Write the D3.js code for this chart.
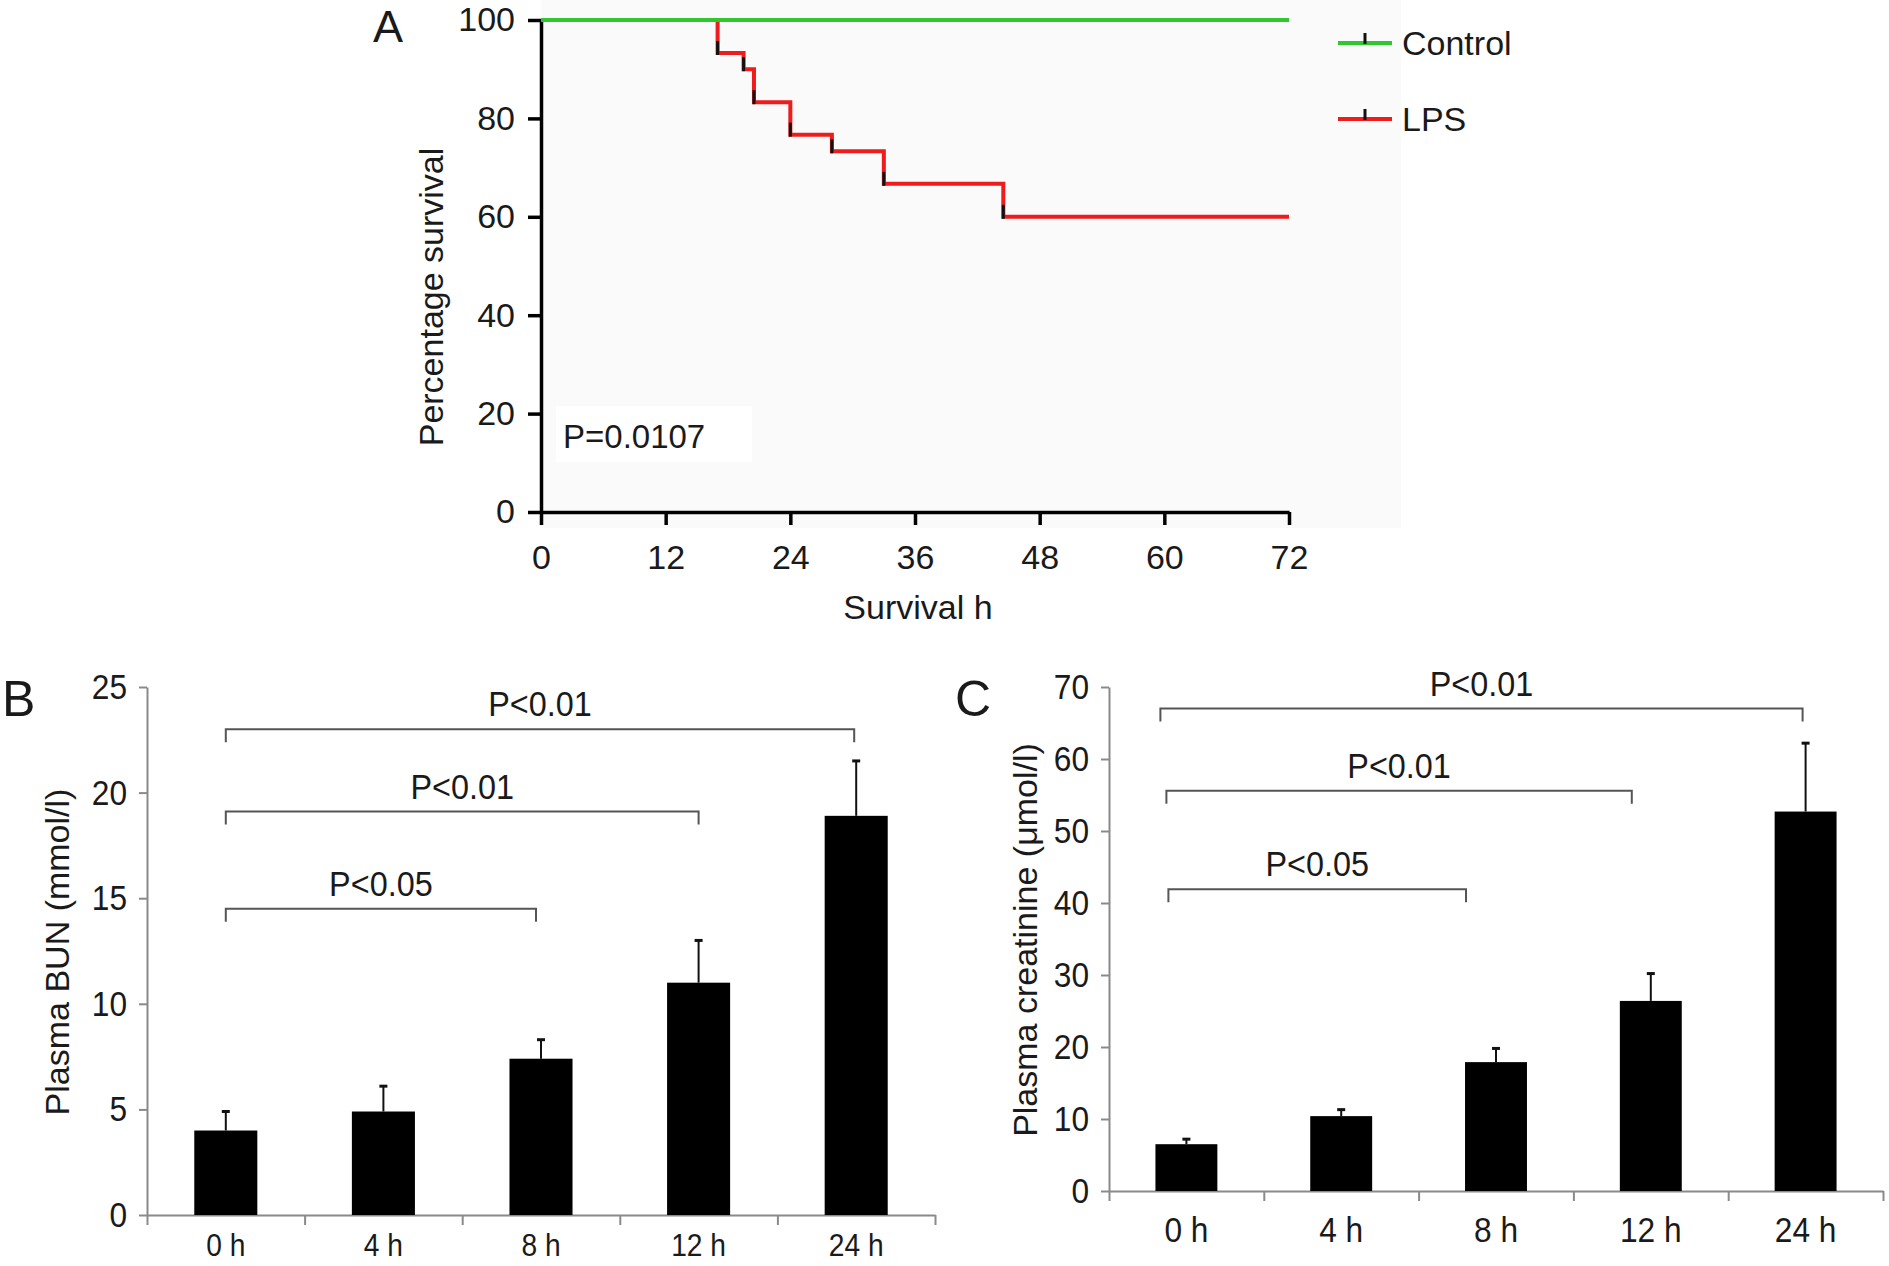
<!DOCTYPE html>
<html>
  <head>
    <meta http-equiv="Content-Type" content="text/html;charset=utf-8"/>
    <title>Survival and renal markers</title>
    <script src="https://d3js.org/d3.v7.min.js"></script>
    <style>
      body { margin: 0; background: #fff; }
      svg text { font-family: "Liberation Sans", Arial, sans-serif; fill: #1a1a1a; }
    </style>
  </head>
  <body>
    <div id="content"></div>
    <script type="text/javascript">

        // panel A - Kaplan-Meier
        const timeTicks = [0, 12, 24, 36, 48, 60, 72]
        const survivalTicks = [0, 20, 40, 60, 80, 100]
        const lpsTimes = [0, 17, 19.5, 20.5, 24, 28, 33, 44.5, 72]
        const lpsSurvival = [100, 93.3, 90, 83.3, 76.7, 73.3, 66.7, 60, 60]
        const controlTimes = [0, 72]
        const controlSurvival = [100, 100]
        const legendNames = ['Control', 'LPS']
        const legendColors = ['#2ec82e', '#ee1c1c']

        // panels B and C
        const groups = ['0 h', '4 h', '8 h', '12 h', '24 h']
        const bunMean = [4.0, 4.9, 7.4, 11.0, 18.9]
        const bunErr = [0.9, 1.2, 0.9, 2.0, 2.6]
        const bunTicks = [0, 5, 10, 15, 20, 25]
        const creMean = [6.5, 10.4, 17.9, 26.4, 52.7]
        const creErr = [0.7, 0.9, 1.9, 3.8, 9.5]
        const creTicks = [0, 10, 20, 30, 40, 50, 60, 70]
        const bunBrackets = [
            { from: '0 h', to: '8 h', level: 14.5, label: 'P<0.05' },
            { from: '0 h', to: '12 h', level: 19.1, label: 'P<0.01' },
            { from: '0 h', to: '24 h', level: 23.0, label: 'P<0.01' }
        ]
        const creBrackets = [
            { from: '0 h', to: '8 h', level: 41.9, label: 'P<0.05' },
            { from: '0 h', to: '12 h', level: 55.6, label: 'P<0.01' },
            { from: '0 h', to: '24 h', level: 67.0, label: 'P<0.01' }
        ]

        const width = 1889, height = 1266
        const svg = d3.select('#content').append('svg')
            .attr('width', width).attr('height', height)

        // squeeze text horizontally (the original uses a condensed face)
        function condense(sel, k) {
            sel.each(function() {
                const t = d3.select(this)
                const x = +t.attr('x') || 0
                t.attr('x', x / k).attr('transform', `scale(${k},1)`)
            })
        }

        // ---------- A ----------
        const xA = d3.scaleLinear().domain([0, 72]).range([541, 1289])
        const yA = d3.scaleLinear().domain([0, 100]).range([512, 20])

        svg.append('rect').attr('x', xA(0)).attr('y', 0)
            .attr('width', 860).attr('height', 528).attr('fill', '#fafafa')
        svg.append('rect').attr('x', 556).attr('y', 406)
            .attr('width', 196).attr('height', 56).attr('fill', '#fff')

        const axA = svg.append('g').attr('class', 'axA')
        axA.append('g')
            .attr('transform', `translate(0,${yA(0)})`)
            .call(d3.axisBottom(xA).tickValues(timeTicks).tickSize(13).tickPadding(20).tickSizeOuter(0))
        axA.append('g')
            .attr('transform', `translate(${xA(0)},0)`)
            .call(d3.axisLeft(yA).tickValues(survivalTicks).tickSize(13).tickPadding(13).tickSizeOuter(0))
        axA.selectAll('path, line').attr('stroke', '#000').attr('stroke-width', 3.5)
        axA.selectAll('text').attr('font-size', 34).attr('fill', '#1a1a1a')

        const lineA = d3.line().x(d => xA(d[0])).y(d => yA(d[1])).curve(d3.curveStepAfter)

        svg.append('path')
            .datum(lpsTimes.map((t, i) => [t, lpsSurvival[i]]))
            .attr('d', lineA).attr('fill', 'none')
            .attr('stroke', legendColors[1]).attr('stroke-width', 4)

        svg.append('path')
            .datum(controlTimes.map((t, i) => [t, controlSurvival[i]]))
            .attr('d', lineA).attr('fill', 'none')
            .attr('stroke', legendColors[0]).attr('stroke-width', 4)

        // censor ticks at the foot of each step
        svg.selectAll('.censor')
            .data(lpsTimes.slice(1, -1).map((t, i) => [t, lpsSurvival[i + 1]]))
            .enter().append('line')
            .attr('x1', d => xA(d[0])).attr('x2', d => xA(d[0]))
            .attr('y1', d => yA(d[1]) + 2).attr('y2', d => yA(d[1]) - 12)
            .attr('stroke', '#111').attr('stroke-width', 3)

        svg.append('text').attr('x', 563).attr('y', 448)
            .attr('font-size', 33).text('P=0.0107')

        svg.append('text').attr('x', (xA(0) + xA(72)) / 2 + 3).attr('y', 619)
            .attr('text-anchor', 'middle').attr('font-size', 34).text('Survival h')

        svg.append('text')
            .attr('transform', 'translate(443,297) rotate(-90)')
            .attr('text-anchor', 'middle').attr('font-size', 34).text('Percentage survival')

        svg.append('text').attr('x', 373).attr('y', 42)
            .attr('font-size', 45).text('A')

        const legend = svg.selectAll('.legend')
            .data(legendNames).enter().append('g')
            .attr('transform', (d, i) => `translate(1338,${43 + i * 76})`)
        legend.append('line').attr('x1', 0).attr('x2', 54)
            .attr('stroke', (d, i) => legendColors[i]).attr('stroke-width', 4)
        legend.append('line').attr('x1', 27).attr('x2', 27).attr('y1', 1).attr('y2', -10)
            .attr('stroke', '#111').attr('stroke-width', 3)
        legend.append('text').attr('x', 64).attr('y', 12)
            .attr('font-size', 34).text(d => d)

        // ---------- B and C ----------
        function barPanel(opt) {
            const g = svg.append('g')
            const xBand = d3.scaleBand().domain(groups).range([opt.x0, opt.x1]).paddingInner(0).paddingOuter(0)
            const xEdge = d3.scaleLinear().domain([0, groups.length]).range([opt.x0, opt.x1])
            const y = d3.scaleLinear().domain([0, opt.max]).range([opt.y0, opt.y1])
            const barW = xBand.bandwidth() * 0.4
            const cx = d => xBand(d) + xBand.bandwidth() / 2

            const ax = g.append('g')
            ax.append('g').attr('transform', `translate(0,${opt.y0})`)
                .call(d3.axisBottom(xEdge).tickValues(d3.range(groups.length + 1)).tickFormat('').tickSize(10).tickSizeOuter(0))
            const xl = ax.append('g').attr('transform', `translate(0,${opt.y0})`)
                .call(d3.axisBottom(xBand).tickSize(0).tickPadding(opt.labelPad))
            xl.select('.domain').remove()
            ax.append('g').attr('transform', `translate(${opt.x0},0)`)
                .call(d3.axisLeft(y).tickValues(opt.ticks).tickSize(8).tickPadding(12).tickSizeOuter(0))
            ax.selectAll('path, line').attr('stroke', '#8a8a8a').attr('stroke-width', 2)
            ax.selectAll('text').attr('font-size', 36).attr('fill', '#1a1a1a')
            xl.selectAll('text').attr('font-size', opt.labelSize)
            condense(ax.selectAll('text'), 0.88)

            g.selectAll('.bar').data(opt.mean).enter().append('rect')
                .attr('x', (d, i) => cx(groups[i]) - barW / 2)
                .attr('y', d => y(d))
                .attr('width', barW)
                .attr('height', d => y(0) - y(d))
                .attr('fill', '#000')

            g.selectAll('.err').data(opt.mean).enter().append('line')
                .attr('x1', (d, i) => cx(groups[i])).attr('x2', (d, i) => cx(groups[i]))
                .attr('y1', d => y(d)).attr('y2', (d, i) => y(d + opt.err[i]))
                .attr('stroke', '#111').attr('stroke-width', 2)
            g.selectAll('.cap').data(opt.mean).enter().append('line')
                .attr('x1', (d, i) => cx(groups[i]) - 4).attr('x2', (d, i) => cx(groups[i]) + 4)
                .attr('y1', (d, i) => y(d + opt.err[i])).attr('y2', (d, i) => y(d + opt.err[i]))
                .attr('stroke', '#111').attr('stroke-width', 3)

            const br = g.selectAll('.bracket').data(opt.brackets).enter().append('g')
            br.append('path')
                .attr('d', (d, i) => {
                    const xa = cx(d.from) + opt.leftShift[i], xb = cx(d.to) + opt.rightShift[i], yy = y(d.level)
                    return `M${xa},${yy + 13}V${yy}H${xb}V${yy + 13}`
                })
                .attr('fill', 'none').attr('stroke', '#555').attr('stroke-width', 2)
            const lab = br.append('text')
                .attr('x', (d, i) => (cx(d.from) + opt.leftShift[i] + cx(d.to) + opt.rightShift[i]) / 2)
                .attr('y', d => y(d.level) - 13)
                .attr('text-anchor', 'middle').attr('font-size', 36).text(d => d.label)
            condense(lab, 0.9)

            svg.append('text')
                .attr('transform', `translate(${opt.labelX},${opt.labelY}) rotate(-90)`)
                .attr('text-anchor', 'middle').attr('font-size', 34).text(opt.title)
            svg.append('text').attr('x', opt.letterX).attr('y', 716)
                .attr('font-size', 50).text(opt.letter)
        }

        barPanel({
            x0: 147, x1: 935, y0: 1215, y1: 687, max: 25, ticks: bunTicks,
            mean: bunMean, err: bunErr, brackets: bunBrackets,
            leftShift: [0, 0, 0], rightShift: [-5, 0, -2],
            labelPad: 18, labelSize: 32, title: 'Plasma BUN (mmol/l)', labelX: 69, labelY: 952,
            letter: 'B', letterX: 2
        })

        barPanel({
            x0: 1109, x1: 1883, y0: 1191, y1: 687, max: 70, ticks: creTicks,
            mean: creMean, err: creErr, brackets: creBrackets,
            leftShift: [-18, -20, -26], rightShift: [-30, -19, -3],
            labelPad: 25, labelSize: 36, title: 'Plasma creatinine (\u03bcmol/l)', labelX: 1037, labelY: 940,
            letter: 'C', letterX: 955
        })

    </script>
  </body>
</html>
